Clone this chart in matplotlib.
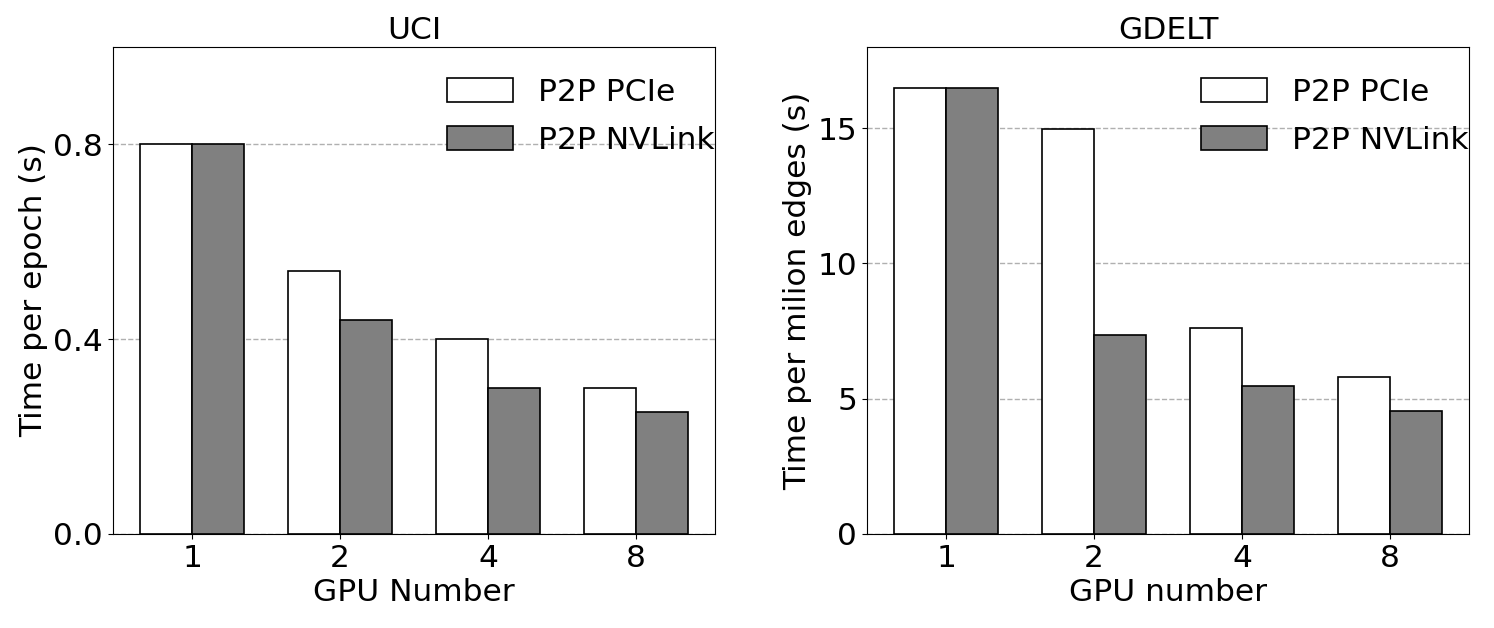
import numpy as np
import matplotlib
matplotlib.use('Agg')
from matplotlib import pyplot as plt

# data
gpus = ['1', '2', '4', '8']
uci_pcie = [0.80, 0.54, 0.40, 0.30]
uci_nvlink = [0.80, 0.44, 0.30, 0.25]
gdelt_pcie = [16.5, 14.95, 7.6, 5.8]
gdelt_nvlink = [16.5, 7.35, 5.47, 4.55]

plt.rcParams['font.size'] = 22.5

fig = plt.figure(figsize=(14.94, 6.28), dpi=100)
ax1 = fig.add_axes([0.0756, 0.1497, 0.403, 0.7755])
ax2 = fig.add_axes([0.5803, 0.1497, 0.403, 0.7755])

x = np.arange(len(gpus))
w = 0.35


def draw(ax, pcie, nvlink, title, ylabel, xlabel, ylim, yticks):
	ax.bar(x - w/2, pcie, w, color='white', edgecolor='black', linewidth=1.2, label='P2P PCIe')
	ax.bar(x + w/2, nvlink, w, color='gray', edgecolor='black', linewidth=1.2, label='P2P NVLink')
	ax.set_xticks(x)
	ax.set_xticklabels(gpus)
	ax.set_ylim(ylim)
	ax.set_yticks(yticks)
	ax.set_title(title, fontsize=22.5)
	ax.set_ylabel(ylabel)
	ax.set_xlabel(xlabel)
	ax.yaxis.grid(True, linestyle='--', color='#b0b0b0', linewidth=1)
	ax.set_axisbelow(True)
	ax.legend(loc='upper right', bbox_to_anchor=(1.02, 0.962), frameon=False,
		handlelength=2.1, handleheight=0.8, labelspacing=0.6,
		borderaxespad=0.0, fontsize=22.5)


draw(ax1, uci_pcie, uci_nvlink, 'UCI', 'Time per epoch (s)', 'GPU Number', (0, 1.0), [0.0, 0.4, 0.8])
ax1.set_yticklabels(['0.0', '0.4', '0.8'])
draw(ax2, gdelt_pcie, gdelt_nvlink, 'GDELT', 'Time per milion edges (s)', 'GPU number', (0, 18), [0, 5, 10, 15])

fig.savefig('out.png', dpi=100)
